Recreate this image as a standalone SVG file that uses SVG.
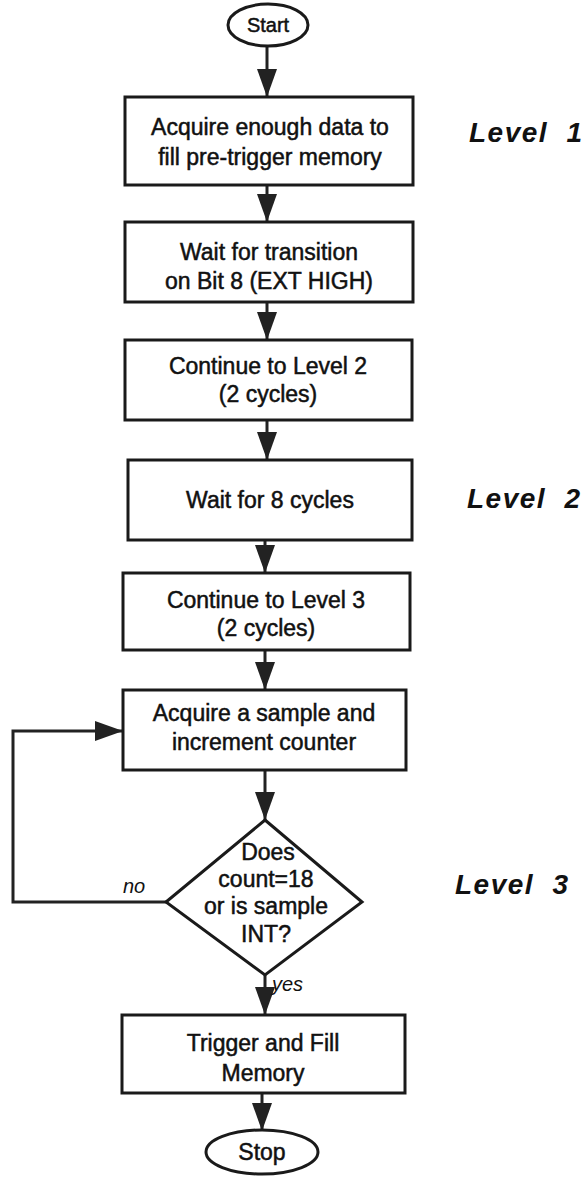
<svg xmlns="http://www.w3.org/2000/svg" width="586" height="1179" viewBox="0 0 586 1179">
<style>
.box{fill:#fff;stroke:#1a1a1a;stroke-width:3}
.t{font-family:"Liberation Sans",Arial,sans-serif;font-size:23px;fill:#111;stroke:#111;stroke-width:0.5;text-anchor:middle}
.lvl{font-family:"Liberation Sans",Arial,sans-serif;font-size:28px;font-weight:bold;font-style:italic;fill:#111;letter-spacing:1.5px;word-spacing:9px}
.lab{font-family:"Liberation Sans",Arial,sans-serif;font-size:20px;font-style:italic;fill:#111}
.c{fill:none;stroke:#222;stroke-width:3}
</style>
<defs>
<marker id="ah" markerUnits="userSpaceOnUse" markerWidth="28" markerHeight="20" refX="28" refY="10" orient="auto" viewBox="0 0 28 20">
<path d="M0,0 L28,10 L0,20 z" fill="#222"/>
</marker>
</defs>
<rect width="586" height="1179" fill="#fff"/>
<g id="connectors">
<line class="c" x1="267" y1="46" x2="267" y2="97" marker-end="url(#ah)"/>
<line class="c" x1="267" y1="185" x2="267" y2="222" marker-end="url(#ah)"/>
<line class="c" x1="267" y1="302" x2="267" y2="340" marker-end="url(#ah)"/>
<line class="c" x1="267" y1="420" x2="267" y2="460" marker-end="url(#ah)"/>
<line class="c" x1="265" y1="540" x2="265" y2="573" marker-end="url(#ah)"/>
<line class="c" x1="265" y1="650" x2="265" y2="690" marker-end="url(#ah)"/>
<line class="c" x1="265" y1="770" x2="265" y2="820" marker-end="url(#ah)"/>
<polyline class="c" points="166,902 13,902 13,731 123,731" marker-end="url(#ah)"/>
<line class="c" x1="265" y1="975" x2="265" y2="1015" marker-end="url(#ah)"/>
<line class="c" x1="262" y1="1093" x2="262" y2="1131" marker-end="url(#ah)"/>
<text class="lab" x="123" y="893">no</text>
<text class="lab" x="272" y="991">yes</text>
</g>
<g id="start">
<ellipse cx="268" cy="25" rx="40" ry="21" fill="#fff" stroke="#1a1a1a" stroke-width="3"/>
<text class="t" x="268" y="32" style="font-size:20px">Start</text>
</g>
<g id="acquire-pretrigger">
<rect class="box" x="125" y="97" width="288" height="88"/>
<text class="t" x="270" y="135">Acquire enough data to</text>
<text class="t" x="270" y="165">fill pre-trigger memory</text>
</g>
<g id="wait-transition">
<rect class="box" x="125" y="222" width="288" height="80"/>
<text class="t" x="269" y="260">Wait for transition</text>
<text class="t" x="269" y="289">on Bit 8 (EXT HIGH)</text>
</g>
<g id="continue-2">
<rect class="box" x="125" y="340" width="287" height="80"/>
<text class="t" x="268" y="374">Continue to Level 2</text>
<text class="t" x="268" y="402">(2 cycles)</text>
</g>
<g id="wait-8">
<rect class="box" x="128" y="460" width="284" height="80"/>
<text class="t" x="270" y="508">Wait for 8 cycles</text>
</g>
<g id="continue-3">
<rect class="box" x="123" y="573" width="287" height="77"/>
<text class="t" x="266" y="608">Continue to Level 3</text>
<text class="t" x="266" y="636">(2 cycles)</text>
</g>
<g id="acquire-sample">
<rect class="box" x="123" y="690" width="283" height="80"/>
<text class="t" x="264" y="721">Acquire a sample  and</text>
<text class="t" x="264" y="750">increment counter</text>
</g>
<g id="decision">
<polygon points="265,820 362,902 265,975 166,902" fill="#fff" stroke="#1a1a1a" stroke-width="3"/>
<text class="t" x="268" y="860">Does</text>
<text class="t" x="266" y="887">count=18</text>
<text class="t" x="266" y="914">or is sample</text>
<text class="t" x="266" y="942">INT?</text>
</g>
<g id="trigger">
<rect class="box" x="122" y="1015" width="283" height="78"/>
<text class="t" x="263" y="1051">Trigger and Fill</text>
<text class="t" x="263" y="1081">Memory</text>
</g>
<g id="stop">
<ellipse cx="262" cy="1152" rx="56" ry="22" fill="#fff" stroke="#1a1a1a" stroke-width="3"/>
<text class="t" x="262" y="1160">Stop</text>
</g>
<g id="levels">
<text class="lvl" x="469" y="142">Level 1</text>
<text class="lvl" x="467" y="508">Level 2</text>
<text class="lvl" x="455" y="894">Level 3</text>
</g>
</svg>
